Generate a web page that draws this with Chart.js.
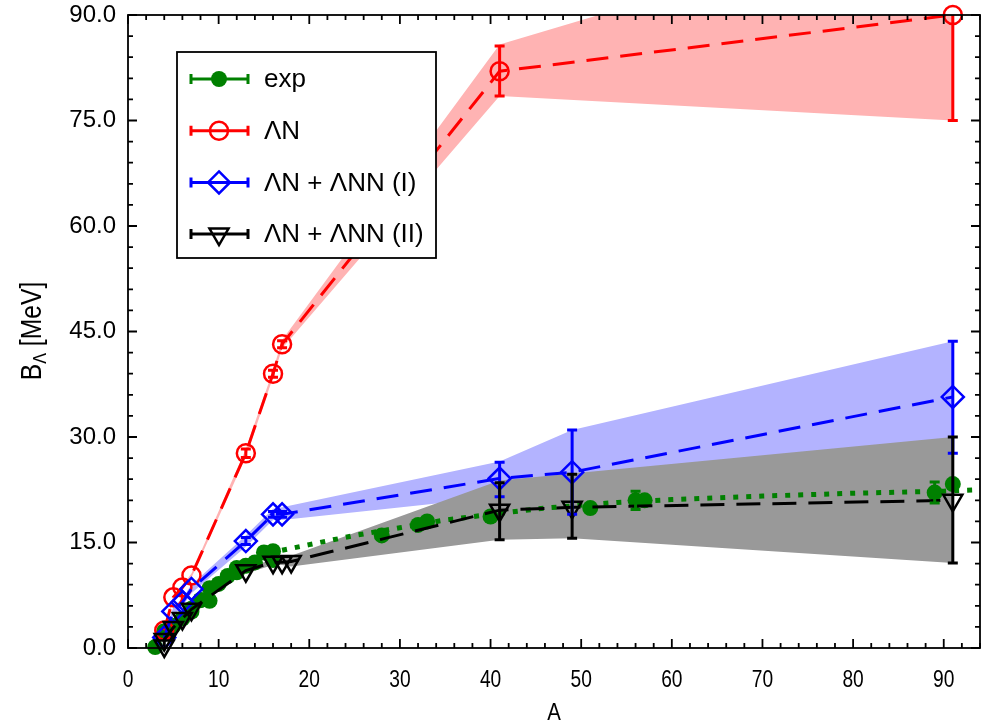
<!DOCTYPE html>
<html>
<head>
<meta charset="utf-8">
<script src="https://cdn.jsdelivr.net/npm/chart.js@4.4.1/dist/chart.umd.min.js"></script>
<style>
  html, body { margin: 0; padding: 0; background: #fff; }
</style>
</head>
<body>
<canvas id="chart" width="982" height="727"></canvas>
<script>
'use strict';

// axis ticks
const xTickLabels = [0, 10, 20, 30, 40, 50, 60, 70, 80, 90];
const yTickLabels = [0, 15, 30, 45, 60, 75, 90];

// experimental values
const expA = [3, 4, 4, 5, 6, 7, 7, 8, 8, 9, 9, 10, 11, 12, 12, 13, 14, 15, 16, 16, 28, 32, 33, 40, 51, 56, 57, 89, 91];
const expB = [0.13, 2.04, 2.39, 3.12, 4.18, 5.58, 5.16, 6.80, 6.84, 8.50, 6.71, 9.11, 10.24, 11.37, 10.76, 11.69, 12.17, 13.59, 13.76, 12.50, 16.0, 17.5, 18.0, 18.7, 19.9, 21.0, 21.0, 22.1, 23.3];
const expLo = [null, null, null, null, null, null, null, null, null, null, null, null, null, null, null, null, null, null, null, null, null, null, null, null, null, 19.7, null, 20.6, null];
const expHi = [null, null, null, null, null, null, null, null, null, null, null, null, null, null, null, null, null, null, null, null, null, null, null, null, null, 22.3, null, 23.6, null];

// fit through experimental values (dotted)
const fitA = [17, 20, 25, 30, 35, 40, 46, 54, 60, 70, 80, 90, 94];
const fitB = [13.9, 14.7, 16.0, 17.1, 18.2, 19.0, 19.9, 20.7, 21.1, 21.6, 22.0, 22.3, 22.5];

// Lambda N
const redA = [4, 5, 6, 7, 13, 16, 17, 41, 91];
const redB = [2.5, 7.2, 8.6, 10.3, 27.7, 39.0, 43.2, 82.0, 90.0];
const redLo = [null, null, null, null, 27.1, 38.5, 42.7, 78.5, 75.0];
const redHi = [null, null, null, null, 28.3, 39.5, 43.7, 85.6, 105.0];
const redBandLo = [2.2, 6.9, 8.3, 10.0, 27.2, 38.5, 42.6, 78.5, 75.0];
const redBandHi = [2.8, 7.5, 8.9, 10.6, 28.3, 39.5, 43.8, 85.8, 105.0];

// Lambda N + Lambda NN (I)
const blueA = [4, 5, 6, 7, 13, 16, 17, 41, 49, 91];
const blueB = [1.5, 5.2, 6.5, 8.4, 15.2, 19.0, 19.0, 24.1, 25.0, 35.7];
const blueLo = [null, null, null, null, 14.7, 18.6, 18.6, 21.5, 19.0, 27.7];
const blueHi = [null, null, null, null, 15.7, 19.4, 19.4, 26.4, 31.0, 43.6];
const blueBandLo = [1.0, 4.6, 5.9, 7.8, 14.4, 18.2, 18.2, 21.5, 19.0, 27.7];
const blueBandHi = [2.0, 5.8, 7.1, 9.0, 16.0, 19.8, 20.0, 26.5, 31.0, 43.6];

// Lambda N + Lambda NN (II)
const blackA = [4, 4, 5, 6, 7, 13, 16, 17, 18, 41, 49, 91];
const blackB = [0.3, 1.2, 2.9, 4.2, 5.5, 11.0, 12.2, 12.2, 12.3, 19.6, 20.0, 21.0];
const blackLo = [null, null, null, null, null, null, null, null, null, 15.4, 15.6, 12.1];
const blackHi = [null, null, null, null, null, null, null, null, null, 23.5, 24.7, 30.0];
const greyA = [13, 16, 17, 18, 41, 49, 91];
const greyBandLo = [10.6, 11.8, 11.8, 11.6, 15.4, 15.6, 12.1];
const greyBandHi = [11.4, 12.6, 12.7, 13.1, 23.8, 24.8, 30.0];

const GREEN = '#008000';
const RED = '#ff0000';
const BLUE = '#0000ff';
const BLACK = '#000000';

const SANS = '"Liberation Sans", Arial, Helvetica, sans-serif';

function pts(xs, ys) {
    return xs.map((x, i) => ({ x: x, y: ys[i] }));
}

function band(xs, hi, lo, color, order) {
    return [
        { data: pts(xs, hi), fill: '+1', backgroundColor: color, borderWidth: 0, pointRadius: 0, order: order },
        { data: pts(xs, lo), fill: false, borderWidth: 0, pointRadius: 0, order: order }
    ];
}

function series(xs, ys, color, style, radius, dash, order, extra) {
    return Object.assign({
        data: pts(xs, ys),
        borderColor: color,
        borderWidth: 3,
        borderDash: dash,
        fill: false,
        pointStyle: style,
        pointRadius: radius,
        pointBorderWidth: 2.5,
        pointBorderColor: color,
        pointBackgroundColor: 'rgba(0,0,0,0)',
        clip: false,
        order: order
    }, extra || {});
}

const datasets = [].concat(
    band(redA, redBandHi, redBandLo, '#ffb3b3', 10),
    band(blueA, blueBandHi, blueBandLo, '#b3b3ff', 9),
    band(greyA, greyBandHi, greyBandLo, '#999999', 8),
    [
        series(fitA, fitB, GREEN, 'circle', 0, [5, 8], 7, { borderWidth: 5, borderCapStyle: 'butt', clip: undefined }),
        series(expA, expB, GREEN, 'circle', 8, [], 6, { showLine: false, pointBackgroundColor: GREEN, pointBorderWidth: 0 }),
        series(redA, redB, RED, 'circle', 9, [22, 12], 3),
        series(blueA, blueB, BLUE, 'rectRot', 11, [22, 12], 2),
        series(blackA, blackB, BLACK, 'triangle', 11, [24, 12], 1, { pointRotation: 180 })
    ]
);

const errorSets = [
    { xs: expA, lo: expLo, hi: expHi, color: GREEN },
    { xs: redA, lo: redLo, hi: redHi, color: RED },
    { xs: blueA, lo: blueLo, hi: blueHi, color: BLUE },
    { xs: blackA, lo: blackLo, hi: blackHi, color: BLACK }
];

const legendRows = [
    { text: 'exp', color: GREEN, style: 'circle', filled: true },
    { text: '\u039BN', color: RED, style: 'circle', filled: false },
    { text: '\u039BN + \u039BNN (I)', color: BLUE, style: 'rectRot', filled: false },
    { text: '\u039BN + \u039BNN (II)', color: BLACK, style: 'triangle', filled: false }
];

function drawMark(ctx, style, x, y, r, color, filled) {
    ctx.save();
    ctx.strokeStyle = color;
    ctx.fillStyle = color;
    ctx.lineWidth = 2.5;
    ctx.beginPath();
    if (style === 'circle') {
        ctx.arc(x, y, r, 0, Math.PI * 2);
    } else if (style === 'rectRot') {
        ctx.moveTo(x, y - r); ctx.lineTo(x + r, y); ctx.lineTo(x, y + r); ctx.lineTo(x - r, y);
        ctx.closePath();
    } else {
        const h = r * Math.sin(Math.PI / 3);
        ctx.moveTo(x - h, y - r / 2); ctx.lineTo(x + h, y - r / 2); ctx.lineTo(x, y + r);
        ctx.closePath();
    }
    if (filled) ctx.fill(); else ctx.stroke();
    ctx.restore();
}

const errorBars = {
    id: 'errorBars',
    afterDatasetsDraw(chart) {
        const ctx = chart.ctx;
        const xs = chart.scales.x, ys = chart.scales.y;
        const area = chart.chartArea;
        ctx.save();
        ctx.beginPath();
        ctx.rect(area.left - 10, area.top, area.right - area.left + 20, area.bottom - area.top + 10);
        ctx.clip();
        errorSets.forEach(set => {
            ctx.strokeStyle = set.color;
            ctx.lineWidth = 3;
            set.xs.forEach((a, i) => {
                if (set.lo[i] === null) return;
                const px = xs.getPixelForValue(a);
                const p1 = ys.getPixelForValue(set.lo[i]);
                const p2 = ys.getPixelForValue(set.hi[i]);
                ctx.beginPath();
                ctx.moveTo(px, p1); ctx.lineTo(px, p2);
                ctx.moveTo(px - 5, p1); ctx.lineTo(px + 5, p1);
                ctx.moveTo(px - 5, p2); ctx.lineTo(px + 5, p2);
                ctx.stroke();
            });
        });
        ctx.restore();
    }
};

const frameAndTitles = {
    id: 'frameAndTitles',
    afterDraw(chart) {
        const ctx = chart.ctx;
        const a = chart.chartArea;
        const xs = chart.scales.x, ys = chart.scales.y;
        ctx.save();
        ctx.strokeStyle = '#000';
        ctx.lineWidth = 1.8;
        ctx.strokeRect(a.left, a.top, a.right - a.left, a.bottom - a.top);
        ctx.beginPath();
        xs.ticks.forEach(t => {
            const px = xs.getPixelForValue(t.value);
            const len = xTickLabels.includes(t.value) ? 9 : 5;
            ctx.moveTo(px, a.bottom); ctx.lineTo(px, a.bottom - len);
            ctx.moveTo(px, a.top); ctx.lineTo(px, a.top + len);
        });
        ys.ticks.forEach(t => {
            const py = ys.getPixelForValue(t.value);
            const len = yTickLabels.includes(t.value) ? 9 : 5;
            ctx.moveTo(a.left, py); ctx.lineTo(a.left + len, py);
            ctx.moveTo(a.right, py); ctx.lineTo(a.right - len, py);
        });
        ctx.stroke();

        // x tick labels (condensed, as in the original)
        ctx.fillStyle = '#000';
        ctx.textBaseline = 'middle';
        ctx.textAlign = 'center';
        ctx.font = '24px ' + SANS;
        xTickLabels.forEach(v => {
            const px = xs.getPixelForValue(v);
            ctx.save();
            ctx.translate(px, 680);
            ctx.scale(0.8, 1);
            ctx.fillText(String(v), 0, 0);
            ctx.restore();
        });

        // axis titles
        ctx.save();
        ctx.translate((a.left + a.right) / 2, 713);
        ctx.scale(0.85, 1);
        ctx.fillText('A', 0, 0);
        ctx.restore();

        ctx.translate(33, 331);
        ctx.rotate(-Math.PI / 2);
        ctx.scale(0.85, 1);
        ctx.textAlign = 'left';
        const big = '29px ' + SANS, small = '19px ' + SANS;
        ctx.font = big; const wB = ctx.measureText('B').width; const wM = ctx.measureText(' [MeV]').width;
        ctx.font = small; const wL = ctx.measureText('\u039B').width;
        let x0 = -(wB + wL + wM) / 2;
        ctx.font = big; ctx.fillText('B', x0, 0);
        ctx.font = small; ctx.fillText('\u039B', x0 + wB, 8);
        ctx.font = big; ctx.fillText(' [MeV]', x0 + wB + wL, 0);
        ctx.restore();

        // legend box
        ctx.save();
        ctx.fillStyle = '#fff';
        ctx.fillRect(177, 52, 259, 206);
        ctx.strokeStyle = '#000';
        ctx.lineWidth = 1.8;
        ctx.strokeRect(177, 52, 259, 206);
        legendRows.forEach((row, i) => {
            const y = 79 + i * 51.7;
            ctx.strokeStyle = row.color;
            ctx.lineWidth = 3;
            ctx.beginPath();
            ctx.moveTo(191, y); ctx.lineTo(248, y);
            ctx.moveTo(191, y - 5); ctx.lineTo(191, y + 5);
            ctx.moveTo(248, y - 5); ctx.lineTo(248, y + 5);
            ctx.stroke();
            drawMark(ctx, row.style, 219, y, row.style === 'circle' ? (row.filled ? 8 : 9) : 11, row.color, row.filled);
            ctx.fillStyle = '#000';
            ctx.font = '26px ' + SANS;
            ctx.textBaseline = 'middle';
            ctx.textAlign = 'left';
            ctx.fillText(row.text, 264, y + 1);
        });
        ctx.restore();
    }
};

new Chart(document.getElementById('chart').getContext('2d'), {
    type: 'line',
    data: { datasets: datasets },
    options: {
        responsive: false,
        animation: false,
        layout: { autoPadding: false, padding: { top: 15, right: 2, left: 0, bottom: 0 } },
        elements: { line: { tension: 0 } },
        plugins: { legend: { display: false }, tooltip: { enabled: false } },
        scales: {
            x: {
                type: 'linear',
                min: 0,
                max: 94,
                grid: { display: false, drawTicks: false },
                border: { display: false },
                ticks: {
                    stepSize: 2,
                    autoSkip: false,
                    maxRotation: 0,
                    padding: 0,
                    color: 'rgba(0,0,0,0)',
                    font: { size: 1 },
                    callback: () => ''
                },
                afterFit: s => {
                    s.height = 79;
                    s.paddingLeft = 0;
                    s.paddingRight = 0;
                }
            },
            y: {
                min: 0,
                max: 90,
                grid: { display: true, drawOnChartArea: false, drawTicks: true, tickLength: 12, color: 'rgba(0,0,0,0)' },
                border: { display: false },
                ticks: {
                    stepSize: 3,
                    autoSkip: false,
                    padding: 0,
                    color: '#000',
                    font: { family: SANS, size: 24 },
                    callback: v => yTickLabels.includes(v) ? v.toFixed(1) : ''
                },
                afterFit: s => {
                    s.width = 128;
                    s.paddingTop = 0;
                    s.paddingBottom = 0;
                }
            }
        }
    },
    plugins: [errorBars, frameAndTitles]
});
</script>
</body>
</html>
